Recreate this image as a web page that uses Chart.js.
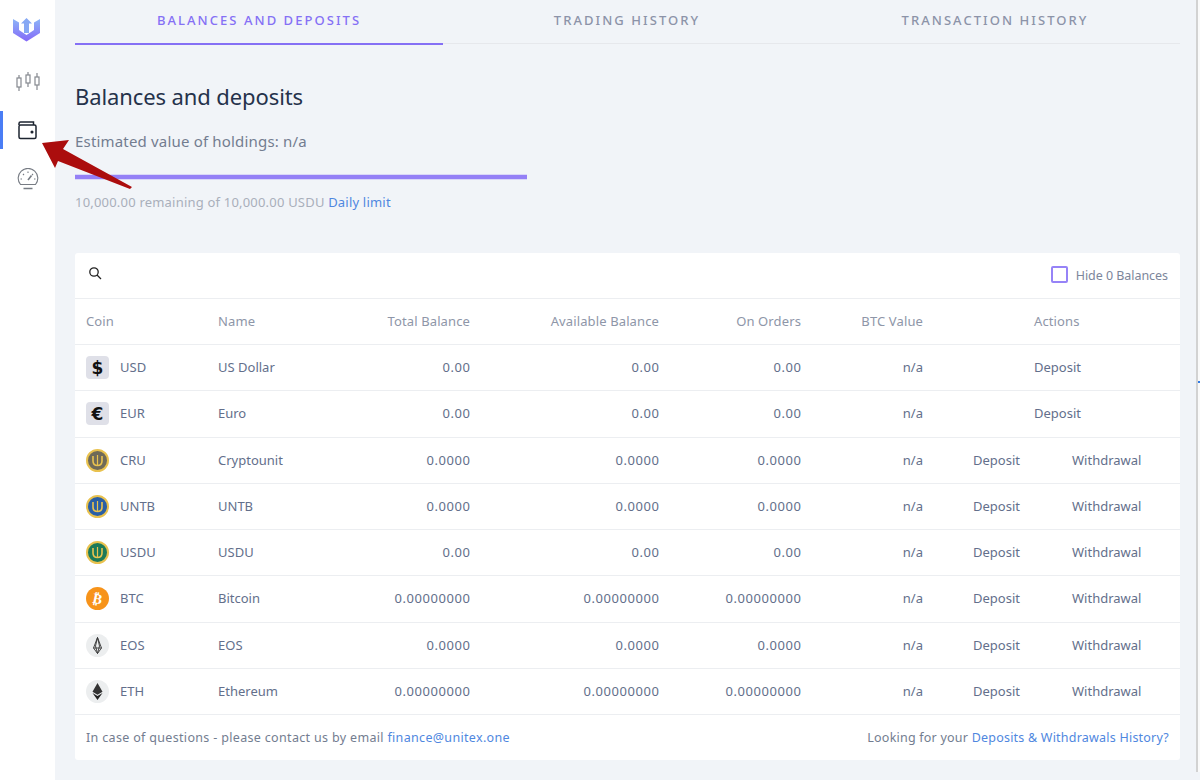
<!DOCTYPE html>
<html>
<head>
<meta charset="utf-8">
<title>Balances and deposits</title>
<script src="https://cdn.jsdelivr.net/npm/chart.js@4"></script>
<style>
    * { box-sizing: border-box; }
    html, body { margin: 0; height: 100%; overflow: hidden; }
    body { width: 1200px; height: 780px; position: relative; background: #f1f4f8; font-family: "Noto Sans", sans-serif; color: #636f8b; }
    a { color: #4f87e0; text-decoration: none; }

    /* Sidebar */
    .sidebar { position: absolute; left: 0; top: 0; width: 55px; height: 780px; background: #fff; }
    .sidebar svg { position: absolute; }
    .active-mark { position: absolute; left: 0; top: 111px; width: 3px; height: 38px; background: #4a7df5; }

    /* Tabs */
    .tab { position: absolute; top: 11px; font-size: 13px; font-weight: 500; letter-spacing: 2.05px; color: #8c93a8; text-align: center; width: 368px; white-space: nowrap; }
    .tab.on { color: #8570f5; }
    .tab-line { position: absolute; left: 75px; top: 43px; width: 1105px; height: 1px; background: #e6e8ec; }
    .tab-line-on { position: absolute; left: 75px; top: 43px; width: 368px; height: 2px; background: #8570f5; }

    h1 { position: absolute; left: 75px; top: 81px; margin: 0; font-size: 22px; font-weight: 400; letter-spacing: -0.1px; color: #25324b; white-space: nowrap; }
    .estimate { position: absolute; left: 75px; top: 131px; font-size: 15px; letter-spacing: 0.18px; color: #737d90; white-space: nowrap; }
    .limit-wrap { position: absolute; left: 75px; top: 172px; width: 452px; height: 10px; }
    .limit-text { position: absolute; left: 75px; top: 192.5px; font-size: 13px; letter-spacing: 0.2px; color: #a9afbb; white-space: nowrap; }

    /* Card */
    .card { position: absolute; left: 75px; top: 253px; width: 1105px; height: 507px; background: #fff; border-radius: 3px; }
    .search { position: absolute; left: 13px; top: 13px; }
    .check { position: absolute; left: 976px; top: 13px; width: 17px; height: 17px; border: 2px solid #9683f7; border-radius: 2px; }
    .hide { position: absolute; right: 12px; top: 14px; font-size: 12.5px; letter-spacing: -0.05px; color: #7d869b; white-space: nowrap; }
    .row { position: absolute; left: 0; width: 1105px; height: 46.25px; border-top: 1px solid #eceef1; font-size: 13px; }
    .row span { position: absolute; top: 13px; white-space: nowrap; line-height: 18px; }
    .row svg { position: absolute; left: 11px; top: 11px; }
    .head { color: #8e96a8; letter-spacing: 0.12px; }
    .num { letter-spacing: 0.55px; margin-right: -0.5px; }
    .c-sym { left: 45px; }
    .c-name { left: 143px; }
    .c-total { right: 710px; }
    .c-avail { right: 521px; }
    .c-orders { right: 379px; }
    .c-btc { right: 257px; }
    .c-act { left: 959px; }
    .c-dep { left: 898px; }
    .c-wd { left: 997px; }
    .foot { position: absolute; top: 476px; font-size: 12.5px; white-space: nowrap; color: #737d90; }

    .edge { position: absolute; left: 1196px; top: 0; width: 4px; height: 772px; background: #fafafa; border-left: 2px solid #d2d2d2; }
    .edge-tick { position: absolute; left: 1198px; top: 381px; width: 2px; height: 2px; background: #2f7ae5; }
    .arrow { position: absolute; left: 0; top: 0; pointer-events: none; }
</style>
</head>
<body>
    <div class="sidebar">
        <svg style="left:13px;top:17px" width="27" height="25" viewBox="0 0 27 25">
            <defs><linearGradient id="logo" x1="0" y1="0" x2="0" y2="1"><stop offset="0" stop-color="#8db5f7"/><stop offset="1" stop-color="#8468f8"/></linearGradient></defs>
            <path d="M0 2 L6 5.5 V13 L13.5 18 L21 13 V5.5 L27 2 V16 L13.5 24.5 L0 16 Z" fill="url(#logo)"/>
            <path d="M13.5 1 L19 6.5 H16 V16 H11 V6.5 H8 Z" fill="#86a8f4"/>
        </svg>
        <svg style="left:15px;top:72px" width="26" height="20" viewBox="0 0 26 20" fill="none" stroke="#85898f" stroke-width="1.2">
            <rect x="2" y="6" width="4" height="9"/><path d="M4 3V6M4 15V19"/>
            <rect x="11" y="3" width="4" height="8"/><path d="M13 0V3M13 11V15"/>
            <rect x="20" y="5" width="4" height="8"/><path d="M22 1V5M22 13V18"/>
        </svg>
        <div class="active-mark"></div>
        <svg style="left:18px;top:121px" width="19" height="19" viewBox="0 0 19 19" fill="none" stroke="#1d2430" stroke-width="1.5">
            <path d="M1 4 V2.5 Q1 1 2.5 1 H15.5 V4"/><rect x="1" y="4" width="17" height="13.5" rx="1.5"/>
            <circle cx="14" cy="11" r="0.8" fill="#1d2430"/>
        </svg>
        <svg style="left:17px;top:168px" width="22" height="22" viewBox="0 0 22 22" fill="none" stroke="#777c84" stroke-width="1.1">
            <path d="M3.5 16.5 A9.8 9.8 0 1 1 18.5 16.5 Z"/><path d="M11 12 L14.5 7.5" stroke-width="1.6"/>
            <path d="M3.5 11H5M17 11H18.5M6 6L7 7M16 6L15 7M11 3.5V5"/><path d="M6.5 20.5H15.5" stroke-width="1.5"/>
        </svg>
    </div>

    <div class="tab on" style="left:75px">BALANCES AND DEPOSITS</div>
    <div class="tab" style="left:443px">TRADING HISTORY</div>
    <div class="tab" style="left:811px">TRANSACTION HISTORY</div>
    <div class="tab-line"></div>
    <div class="tab-line-on"></div>

    <h1>Balances and deposits</h1>
    <div class="estimate">Estimated value of holdings: n/a</div>
    <div class="limit-wrap"><canvas id="limit-chart"></canvas></div>
    <div class="limit-text">10,000.00 remaining of 10,000.00 USDU <a>Daily limit</a></div>

    <div class="card" id="card">
        <svg class="search" width="14" height="14" viewBox="0 0 14 14" fill="none" stroke="#222" stroke-width="1.3"><circle cx="6" cy="6" r="4.2"/><path d="M9 9L13 13"/></svg>
        <div class="check"></div>
        <div class="hide">Hide 0 Balances</div>
        <div class="foot" style="left:11px;letter-spacing:0.33px">In case of questions - please contact us by email <a>finance@unitex.one</a></div>
        <div class="foot" style="right:11px;letter-spacing:0.22px">Looking for your <a>Deposits &amp; Withdrawals History?</a></div>
    </div>
    <div class="edge"></div>
    <div class="edge-tick"></div>

    <svg class="arrow" width="200" height="200">
        <path d="M42 143 L69 140 L63 149 L132 187 L130 189 L58 161 L55 168 Z" fill="#ab0d0d"/>
    </svg>

<script>
    // Table data
    var columns = ["Coin", "Name", "Total Balance", "Available Balance", "On Orders", "BTC Value", "Actions"];
    var coins = ["USD", "EUR", "CRU", "UNTB", "USDU", "BTC", "EOS", "ETH"];
    var names = ["US Dollar", "Euro", "Cryptounit", "UNTB", "USDU", "Bitcoin", "EOS", "Ethereum"];
    var totals = ["0.00", "0.00", "0.0000", "0.0000", "0.00", "0.00000000", "0.0000", "0.00000000"];
    var available = ["0.00", "0.00", "0.0000", "0.0000", "0.00", "0.00000000", "0.0000", "0.00000000"];
    var onOrders = ["0.00", "0.00", "0.0000", "0.0000", "0.00", "0.00000000", "0.0000", "0.00000000"];
    var btcValues = ["n/a", "n/a", "n/a", "n/a", "n/a", "n/a", "n/a", "n/a"];

    // Daily limit bar
    var limitLabels = ["Daily limit"];
    var limitRemaining = [10000];
    var limitTotal = 10000;

    function coinIcon(coin) {
        var inner = "";
        if (coin === "USD" || coin === "EUR") {
            inner = '<rect width="23" height="23" rx="4" fill="#dfe0e8"/><text x="11.5" y="17.5" text-anchor="middle" font-size="17" font-weight="700" font-family="DejaVu Sans" fill="#111">' + (coin === "USD" ? "$" : "€") + '</text>';
        } else if (coin === "BTC") {
            inner = '<circle cx="11.5" cy="11.5" r="11.5" fill="#f7931a"/><text x="11.5" y="16.5" text-anchor="middle" font-size="14" font-weight="700" font-family="DejaVu Sans" fill="#fff" transform="rotate(12 11.5 11.5)">₿</text>';
        } else if (coin === "EOS") {
            inner = '<circle cx="11.5" cy="11.5" r="11.5" fill="#eceeef"/><path d="M11.5 3.5L15.5 14L11.5 19.5L7.5 14Z M11.5 3.5L9.5 12L11.5 19.5L13.5 12Z M7.5 14H15.5" fill="none" stroke="#333" stroke-width="0.9"/>';
        } else if (coin === "ETH") {
            inner = '<circle cx="11.5" cy="11.5" r="11.5" fill="#eceeef"/><path d="M11.5 3L16.5 11.7L11.5 14.7L6.5 11.7Z" fill="#333"/><path d="M6.5 13L11.5 16L16.5 13L11.5 20Z" fill="#222"/>';
        } else {
            var fill = { CRU: "#6f6a58", UNTB: "#2a5fa5", USDU: "#1d7a58" }[coin];
            inner = '<circle cx="11.5" cy="11.5" r="10.5" fill="' + fill + '" stroke="#e9c24f" stroke-width="2"/><path d="M7 7V12Q7 16.5 11.5 16.5Q16 16.5 16 12V7" fill="none" stroke="#e9c24f" stroke-width="1.6"/><path d="M11.5 6V17" stroke="#e9c24f" stroke-width="1.2"/>';
        }
        return '<svg width="23" height="23" viewBox="0 0 23 23">' + inner + '</svg>';
    }

    function makeRow(top, html, cls) {
        var row = document.createElement("div");
        row.className = "row " + (cls || "");
        row.style.top = top + "px";
        row.innerHTML = html;
        document.getElementById("card").appendChild(row);
    }

    // Header row
    makeRow(45, '<span class="c-sym" style="left:11px">' + columns[0] + '</span>' +
        '<span class="c-name">' + columns[1] + '</span>' +
        '<span class="c-total">' + columns[2] + '</span>' +
        '<span class="c-avail">' + columns[3] + '</span>' +
        '<span class="c-orders">' + columns[4] + '</span>' +
        '<span class="c-btc">' + columns[5] + '</span>' +
        '<span class="c-act">' + columns[6] + '</span>', "head");

    // Coin rows
    coins.forEach(function (coin, i) {
        var fiat = i < 2;
        var actions = fiat
            ? '<span class="c-act">Deposit</span>'
            : '<span class="c-dep">Deposit</span><span class="c-wd">Withdrawal</span>';
        makeRow(91 + i * 46.25, coinIcon(coin) +
            '<span class="c-sym">' + coin + '</span>' +
            '<span class="c-name">' + names[i] + '</span>' +
            '<span class="c-total num">' + totals[i] + '</span>' +
            '<span class="c-avail num">' + available[i] + '</span>' +
            '<span class="c-orders num">' + onOrders[i] + '</span>' +
            '<span class="c-btc">' + btcValues[i] + '</span>' + actions);
    });
    makeRow(461, "");

    // Progress bar for the daily limit
    new Chart(document.getElementById("limit-chart").getContext("2d"), {
        type: "bar",
        data: {
            labels: limitLabels,
            datasets: [{
                data: limitRemaining,
                backgroundColor: "#9480f6",
                barThickness: 4,
                borderSkipped: false
            }]
        },
        options: {
            indexAxis: "y",
            responsive: true,
            maintainAspectRatio: false,
            animation: false,
            layout: { padding: 0 },
            plugins: { legend: { display: false }, tooltip: { enabled: false } },
            scales: {
                x: { display: false, min: 0, max: limitTotal },
                y: { display: false }
            }
        }
    });
</script>
</body>
</html>
